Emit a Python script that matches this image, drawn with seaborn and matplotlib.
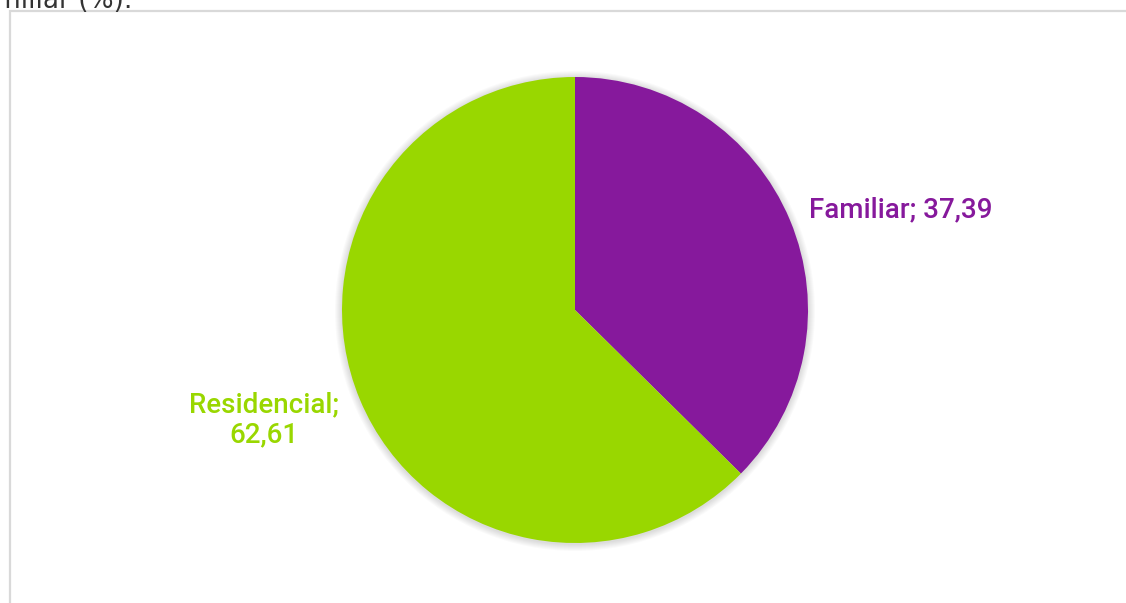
import matplotlib
matplotlib.use("Agg")
import matplotlib.pyplot as plt
import seaborn as sns
from matplotlib.patches import Circle, Rectangle

# data
categorias = ["Familiar", "Residencial"]
valores = [37.39, 62.61]
cores = ["#86199C", "#99D700"]
titulo_cortado = "Familiar (%)."

sns.set_theme(style="white")
plt.rcParams["font.family"] = ["Roboto", "DejaVu Sans"]

W, H = 1126, 603
fig = plt.figure(figsize=(W / 100, H / 100), dpi=100)
ax = fig.add_axes([0, 0, 1, 1])

def py(y):
    # pixel do topo -> coordenada do eixo
    return H - y

# caixa do grafico
ax.add_patch(Rectangle((9.5, py(611)), 1130, 600, fill=False, edgecolor="#d9d9d9", lw=1.6))

# resto do titulo que ficou cortado em cima
ax.text(132, py(8), titulo_cortado, ha="right", va="baseline", fontsize=19,
        color="#333333", family=["DejaVu Sans"])

cx, cy, r = 575, py(310), 233

# sombra suave
for k in range(1, 8):
    ax.add_patch(Circle((cx, cy - 1), r + k, color="black", alpha=0.02, lw=0))

ax.pie(valores, colors=cores, startangle=90, counterclock=False,
       center=(cx, cy), radius=r, wedgeprops=dict(lw=0), frame=True)
ax.set_xlim(0, W)
ax.set_ylim(0, H)
ax.set_aspect("equal")
ax.axis("off")

def rotulo(i):
    return f"{categorias[i]}; {str(valores[i]).replace('.', ',')}"

ax.text(809, py(210), rotulo(0), ha="left", va="center", fontsize=20,
        fontweight="medium", color=cores[0])
ax.text(264, py(420), rotulo(1).replace("; ", ";\n"), ha="center", va="center",
        fontsize=20, fontweight="medium", color=cores[1], linespacing=1.15)

fig.savefig("out.png", dpi=100)
